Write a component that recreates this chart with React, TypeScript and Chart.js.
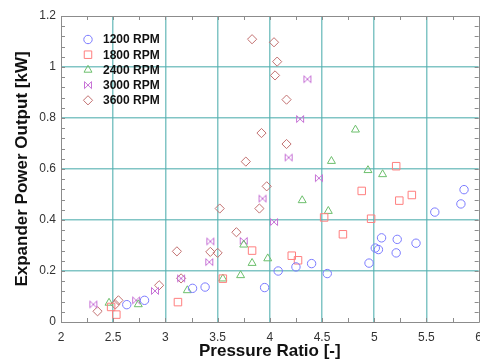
import React, { useEffect, useRef } from 'react';
import { Chart, registerables } from 'chart.js';
import { drawPoint } from 'chart.js/helpers';

Chart.register(...registerables);

const seriesNames = ['1200 RPM', '1800 RPM', '2400 RPM', '3000 RPM', '3600 RPM'];
const seriesColors = ['#7b7bff', '#ff7f7f', '#6cbf6c', '#c773d6', '#c27070'];

const rpm1200X = [2.63, 2.8, 3.26, 3.38, 3.95, 4.08, 4.25, 4.4, 4.55, 4.95, 5.01, 5.04, 5.07, 5.21, 5.22, 5.4, 5.58, 5.83, 5.86];
const rpm1200Y = [0.068, 0.085, 0.132, 0.137, 0.135, 0.2, 0.216, 0.229, 0.19, 0.231, 0.29, 0.284, 0.33, 0.271, 0.324, 0.309, 0.431, 0.463, 0.519];

const rpm1800X = [2.48, 2.53, 3.12, 3.55, 3.83, 4.21, 4.27, 4.52, 4.7, 4.88, 4.97, 5.21, 5.24, 5.36];
const rpm1800Y = [0.059, 0.029, 0.078, 0.17, 0.28, 0.26, 0.242, 0.41, 0.344, 0.514, 0.405, 0.611, 0.476, 0.498];

const rpm2400X = [2.46, 2.74, 3.21, 3.55, 3.72, 3.75, 3.83, 3.98, 4.31, 4.56, 4.59, 4.82, 4.94, 5.08];
const rpm2400Y = [0.075, 0.069, 0.124, 0.17, 0.183, 0.303, 0.231, 0.249, 0.477, 0.435, 0.631, 0.754, 0.595, 0.579];

const rpm3000X = [2.31, 2.72, 2.9, 3.15, 3.42, 3.43, 3.75, 3.93, 4.04, 4.18, 4.29, 4.36, 4.47];
const rpm3000Y = [0.069, 0.085, 0.122, 0.171, 0.235, 0.316, 0.318, 0.484, 0.392, 0.645, 0.796, 0.952, 0.564];

const rpm3600X = [2.35, 2.52, 2.55, 2.94, 3.11, 3.15, 3.43, 3.5, 3.52, 3.68, 3.77, 3.83, 3.9, 3.92, 3.97, 4.04, 4.05, 4.07, 4.16, 4.16];
const rpm3600Y = [0.042, 0.069, 0.085, 0.144, 0.277, 0.171, 0.275, 0.271, 0.445, 0.352, 0.629, 1.109, 0.445, 0.741, 0.532, 1.097, 0.967, 1.021, 0.872, 0.698];

const xTitle = 'Pressure Ratio [-]';
const yTitle = 'Expander Power Output [kW]';

const FONT = "Arial, 'Liberation Sans', Helvetica, sans-serif";
const GRID = 'rgba(80,175,175,0.72)';
const AXIS = '#8c8c8c';

function makeBowtie(color: string) {
  const c = document.createElement('canvas');
  c.width = 10;
  c.height = 10;
  const ctx = c.getContext('2d')!;
  ctx.strokeStyle = color;
  ctx.lineWidth = 1;
  ctx.beginPath();
  ctx.moveTo(1.5, 1.5);
  ctx.lineTo(8.5, 8.5);
  ctx.lineTo(8.5, 1.5);
  ctx.lineTo(1.5, 8.5);
  ctx.closePath();
  ctx.stroke();
  return c;
}

function toPoints(xs: number[], ys: number[]) {
  return xs.map((x, i) => ({ x, y: ys[i] }));
}

const fmt = (v: any) => String(+Number(v).toFixed(2));

export default function App() {
  const ref = useRef<HTMLCanvasElement>(null);

  useEffect(() => {
    if (!ref.current) return;
    const bowtie = makeBowtie(seriesColors[3]);
    const styles: any[] = ['circle', 'rect', 'triangle', bowtie, 'rectRot'];
    const radii = [4.2, 5.3, 4.6, 5, 4.6];
    const xsAll = [rpm1200X, rpm1800X, rpm2400X, rpm3000X, rpm3600X];
    const ysAll = [rpm1200Y, rpm1800Y, rpm2400Y, rpm3000Y, rpm3600Y];

    const datasets = seriesNames.map((name, i) => ({
      label: name,
      data: toPoints(xsAll[i], ysAll[i]),
      pointStyle: styles[i],
      pointRadius: radii[i],
      pointHoverRadius: radii[i],
      pointBorderWidth: 1,
      borderColor: seriesColors[i],
      backgroundColor: 'rgba(0,0,0,0)',
      showLine: false,
    }));

    const framePlugin = {
      id: 'frame',
      afterDraw(chart: any) {
        const { ctx, chartArea } = chart;
        const { left, right, top, bottom } = chartArea;
        const xs = chart.scales.x;
        const ys = chart.scales.y;
        ctx.save();
        ctx.strokeStyle = AXIS;
        ctx.lineWidth = 1;
        ctx.beginPath();
        ctx.rect(Math.round(left) + 0.5, Math.round(top) + 0.5, Math.round(right - left), Math.round(bottom - top));
        ctx.stroke();
        ctx.beginPath();
        for (let k = 0; k <= 16; k++) {
          const v = 2 + k * 0.25;
          const px = Math.round(xs.getPixelForValue(v)) + 0.5;
          ctx.moveTo(px, bottom);
          ctx.lineTo(px, bottom - 4);
          ctx.moveTo(px, top);
          ctx.lineTo(px, top + 4);
        }
        for (let k = 0; k <= 30; k++) {
          const v = k * 0.04;
          const py = Math.round(ys.getPixelForValue(v)) + 0.5;
          ctx.moveTo(left, py);
          ctx.lineTo(left + 4, py);
          ctx.moveTo(right, py);
          ctx.lineTo(right - 4, py);
        }
        ctx.stroke();

        // legend inside plot
        const lx = 88;
        const ly0 = 39.5;
        const step = 15.2;
        ctx.font = `bold 12px ${FONT}`;
        ctx.textBaseline = 'middle';
        ctx.textAlign = 'left';
        seriesNames.forEach((name, i) => {
          const y = ly0 + i * step;
          ctx.strokeStyle = seriesColors[i];
          ctx.fillStyle = 'rgba(0,0,0,0)';
          ctx.lineWidth = 1;
          drawPoint(ctx, { pointStyle: styles[i], radius: radii[i], rotation: 0, borderWidth: 1 } as any, lx, y);
          ctx.fillStyle = '#111';
          ctx.fillText(name, 103, y + 0.5);
        });
        ctx.restore();
      },
    };

    const chart = new Chart(ref.current, {
      type: 'scatter',
      data: { datasets },
      options: {
        animation: false,
        responsive: false,
        events: [],
        layout: { padding: { top: 16, right: 9, left: 0, bottom: 0 } },
        plugins: { legend: { display: false }, tooltip: { enabled: false } },
        scales: {
          x: {
            type: 'linear',
            min: 2,
            max: 6,
            afterFit: (s: any) => { s.height = 41; },
            ticks: { stepSize: 0.5, padding: 8, color: '#333', font: { family: FONT, size: 12 }, callback: fmt },
            grid: {
              drawTicks: false,
              lineWidth: 1.5,
              color: (c: any) => (c.tick && (c.tick.value === 2 || c.tick.value === 6) ? 'rgba(0,0,0,0)' : GRID),
            },
            border: { display: false },
            title: { display: true, text: xTitle, color: '#111', font: { family: FONT, size: 17, weight: 'bold' }, padding: { top: 0, bottom: 1 } },
          },
          y: {
            type: 'linear',
            min: 0,
            max: 1.2,
            afterFit: (s: any) => { s.width = 61; },
            ticks: { stepSize: 0.2, padding: 5, color: '#333', font: { family: FONT, size: 12 }, callback: fmt },
            grid: {
              drawTicks: false,
              lineWidth: 1.5,
              color: (c: any) => (c.tick && (c.tick.value === 0 || Math.abs(c.tick.value - 1.2) < 1e-6) ? 'rgba(0,0,0,0)' : GRID),
            },
            border: { display: false },
            title: { display: true, text: yTitle, color: '#111', font: { family: FONT, size: 17, weight: 'bold' }, padding: { top: 12, bottom: 0 } },
          },
        },
      },
      plugins: [framePlugin],
    });
    return () => chart.destroy();
  }, []);

  return (
    <div style={{ position: 'absolute', left: 0, top: 0, width: 480, height: 363, overflow: 'hidden', background: '#fff' }}>
      <canvas ref={ref} width={490} height={363} style={{ display: 'block', width: 490, height: 363 }} />
    </div>
  );
}
